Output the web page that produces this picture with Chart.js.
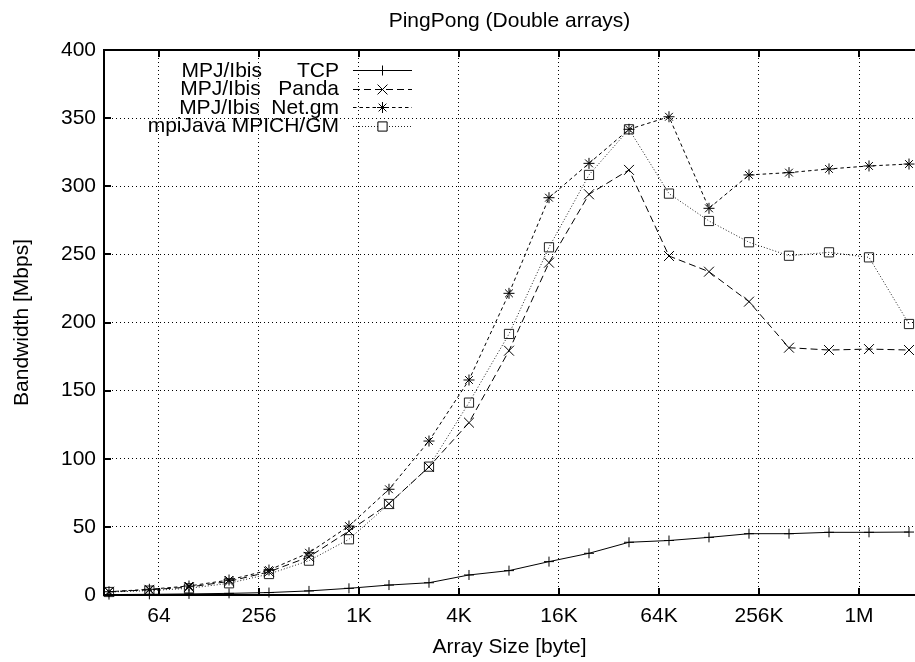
<!DOCTYPE html>
<html>
<head>
<meta charset="utf-8">
<script src="https://cdn.jsdelivr.net/npm/chart.js@4"></script>
<style>
  html, body { margin: 0; padding: 0; background: #fff; }
</style>
</head>
<body>
<canvas id="pingpong" width="915" height="662"></canvas>
<script>
// array sizes in bytes (one point per measurement)
const sizes = [32, 56, 97, 169, 294, 512, 891, 1552, 2702, 4705, 8192, 14263, 24834, 43238, 75281, 131072, 228209, 397336, 691802, 1204497, 2097152];

// bandwidth in Mbps
const tcp = [0.3, 0.5, 0.8, 1.2, 1.8, 3.0, 4.9, 7.3, 9.0, 14.7, 17.9, 24.5, 30.6, 38.7, 40.0, 42.3, 45.0, 45.0, 46.0, 46.0, 46.2];
const panda = [2.4, 3.8, 5.8, 10.0, 17.0, 28.0, 47.0, 67.0, 94.0, 126.5, 179.3, 243.9, 294.1, 312.0, 248.8, 237.3, 215.3, 181.5, 179.8, 180.5, 179.8];
const netgm = [2.4, 4.2, 6.6, 11.0, 18.3, 31.0, 50.6, 77.6, 113.0, 157.8, 221.4, 291.6, 316.8, 341.8, 351.0, 283.8, 308.3, 310.0, 312.7, 314.9, 316.3];
const mpich = [2.2, 3.2, 4.9, 8.6, 15.4, 25.2, 40.9, 66.8, 94.2, 141.2, 191.6, 255.2, 308.3, 341.8, 294.6, 274.5, 258.9, 249.0, 251.5, 247.8, 198.9];

const seriesLabels = ['MPJ/Ibis      TCP', 'MPJ/Ibis   Panda', 'MPJ/Ibis  Net.gm', 'mpiJava MPICH/GM'];
const chartTitle = 'PingPong (Double arrays)';

const xTicks = [64, 256, 1024, 4096, 16384, 65536, 262144, 1048576];
const yTicks = [0, 50, 100, 150, 200, 250, 300, 350, 400];

const FONT = "'Liberation Sans', Arial, Helvetica, sans-serif";
const FSIZE = 21;
Chart.defaults.font.family = FONT;
Chart.defaults.font.size = FSIZE;
Chart.defaults.color = '#000';

function pts(vals) {
  return vals.map((v, i) => ({ x: sizes[i], y: v }));
}

function sizeLabel(v) {
  if (v >= 1048576) return (v / 1048576) + 'M';
  if (v >= 1024) return (v / 1024) + 'K';
  return String(v);
}

// gnuplot style border with inward ticks, title centred over the plot
// (the right hand border lies outside the picture)
const framePlugin = {
  id: 'frame',
  afterDraw(chart) {
    const { ctx, chartArea: a, scales } = chart;
    ctx.save();
    ctx.setLineDash([]);
    ctx.strokeStyle = '#000';
    ctx.lineWidth = 2;
    ctx.beginPath();
    ctx.moveTo(a.right + 2, a.top); ctx.lineTo(a.left, a.top);
    ctx.lineTo(a.left, a.bottom); ctx.lineTo(a.right + 2, a.bottom);
    xTicks.forEach(v => {
      const px = Math.round(scales.x.getPixelForValue(v));
      ctx.moveTo(px, a.bottom); ctx.lineTo(px, a.bottom - 7);
      ctx.moveTo(px, a.top); ctx.lineTo(px, a.top + 7);
    });
    yTicks.forEach(v => {
      const py = Math.round(scales.y.getPixelForValue(v));
      ctx.moveTo(a.left, py); ctx.lineTo(a.left + 7, py);
    });
    ctx.stroke();

    ctx.fillStyle = '#000';
    ctx.font = FSIZE + 'px ' + FONT;
    ctx.textAlign = 'center';
    ctx.textBaseline = 'middle';
    ctx.fillText(chartTitle, (a.left + a.right) / 2, 21);
    ctx.restore();
  }
};

// key in the upper left, text right aligned, sample to the right
const keyPlugin = {
  id: 'key',
  afterDraw(chart) {
    const { ctx, chartArea: a } = chart;
    const textRight = a.left + 235;
    const lineL = a.left + 249, lineR = a.left + 308;
    ctx.save();
    ctx.font = FSIZE + 'px ' + FONT;
    ctx.textAlign = 'right';
    ctx.textBaseline = 'middle';
    chart.data.datasets.forEach((ds, i) => {
      const yy = a.top + 20 + i * 18.5;
      ctx.fillStyle = '#000';
      ctx.fillText(ds.label, textRight, yy + 1);
      const ly = Math.round(yy) + 0.5;
      ctx.strokeStyle = ds.borderColor;
      ctx.lineWidth = 1;
      ctx.setLineDash(ds.borderDash || []);
      ctx.beginPath();
      ctx.moveTo(lineL, ly); ctx.lineTo(lineR, ly);
      ctx.stroke();
      ctx.setLineDash([]);
      ctx.fillStyle = '#fff';
      ctx.strokeStyle = '#000';
      Chart.helpers.drawPoint(ctx, {
        pointStyle: ds.pointStyle, radius: ds.pointRadius, rotation: 0, borderWidth: 1
      }, (lineL + lineR) / 2, ly);
    });
    ctx.restore();
  }
};

new Chart(document.getElementById('pingpong'), {
  type: 'line',
  data: {
    datasets: [
      { label: seriesLabels[0], data: pts(tcp), borderColor: '#000', borderWidth: 1, borderDash: [],
        pointStyle: 'cross', pointRadius: 5, pointBorderColor: '#000', pointBorderWidth: 1, clip: false },
      { label: seriesLabels[1], data: pts(panda), borderColor: '#000', borderWidth: 1, borderDash: [7, 4],
        pointStyle: 'crossRot', pointRadius: 7, pointBorderColor: '#000', pointBorderWidth: 1, clip: false },
      { label: seriesLabels[2], data: pts(netgm), borderColor: '#000', borderWidth: 1, borderDash: [3.5, 3],
        pointStyle: 'star', pointRadius: 5.5, pointBorderColor: '#000', pointBorderWidth: 1, clip: false },
      { label: seriesLabels[3], data: pts(mpich), borderColor: '#222', borderWidth: 1, borderDash: [1, 2],
        pointStyle: 'rect', pointRadius: 6.5, pointBorderColor: '#222', pointBorderWidth: 1,
        pointBackgroundColor: 'rgba(255,255,255,0)', clip: false }
    ]
  },
  options: {
    responsive: false,
    animation: false,
    layout: { autoPadding: false, padding: { left: 0, right: 0, top: 50, bottom: 0 } },
    elements: { line: { tension: 0, fill: false } },
    plugins: {
      legend: { display: false },
      tooltip: { enabled: false },
      title: { display: false }
    },
    scales: {
      x: {
        type: 'logarithmic',
        bounds: 'data',
        min: 29.86,
        max: 2279000,
        afterBuildTicks: s => { s.ticks = xTicks.map(v => ({ value: v })); },
        afterFit: s => { s.height = 67; s.paddingLeft = 0; s.paddingRight = 0; },
        ticks: { callback: v => sizeLabel(v), maxRotation: 0, autoSkip: false, padding: 9 },
        grid: { color: '#000', lineWidth: 1, drawTicks: false },
        border: { display: false, dash: [1, 3] },
        title: { display: true, text: 'Array Size [byte]', padding: { top: 0, bottom: 2 } }
      },
      y: {
        min: 0,
        max: 400,
        afterBuildTicks: s => { s.ticks = yTicks.map(v => ({ value: v })); },
        afterFit: s => { s.width = 104; s.paddingTop = 0; s.paddingBottom = 0; },
        ticks: { padding: 8 },
        grid: { color: '#000', lineWidth: 1, drawTicks: false },
        border: { display: false, dash: [1, 3] },
        title: { display: true, text: 'Bandwidth [Mbps]', padding: { top: 10, bottom: 0 } }
      }
    }
  },
  plugins: [framePlugin, keyPlugin]
});
</script>
</body>
</html>
